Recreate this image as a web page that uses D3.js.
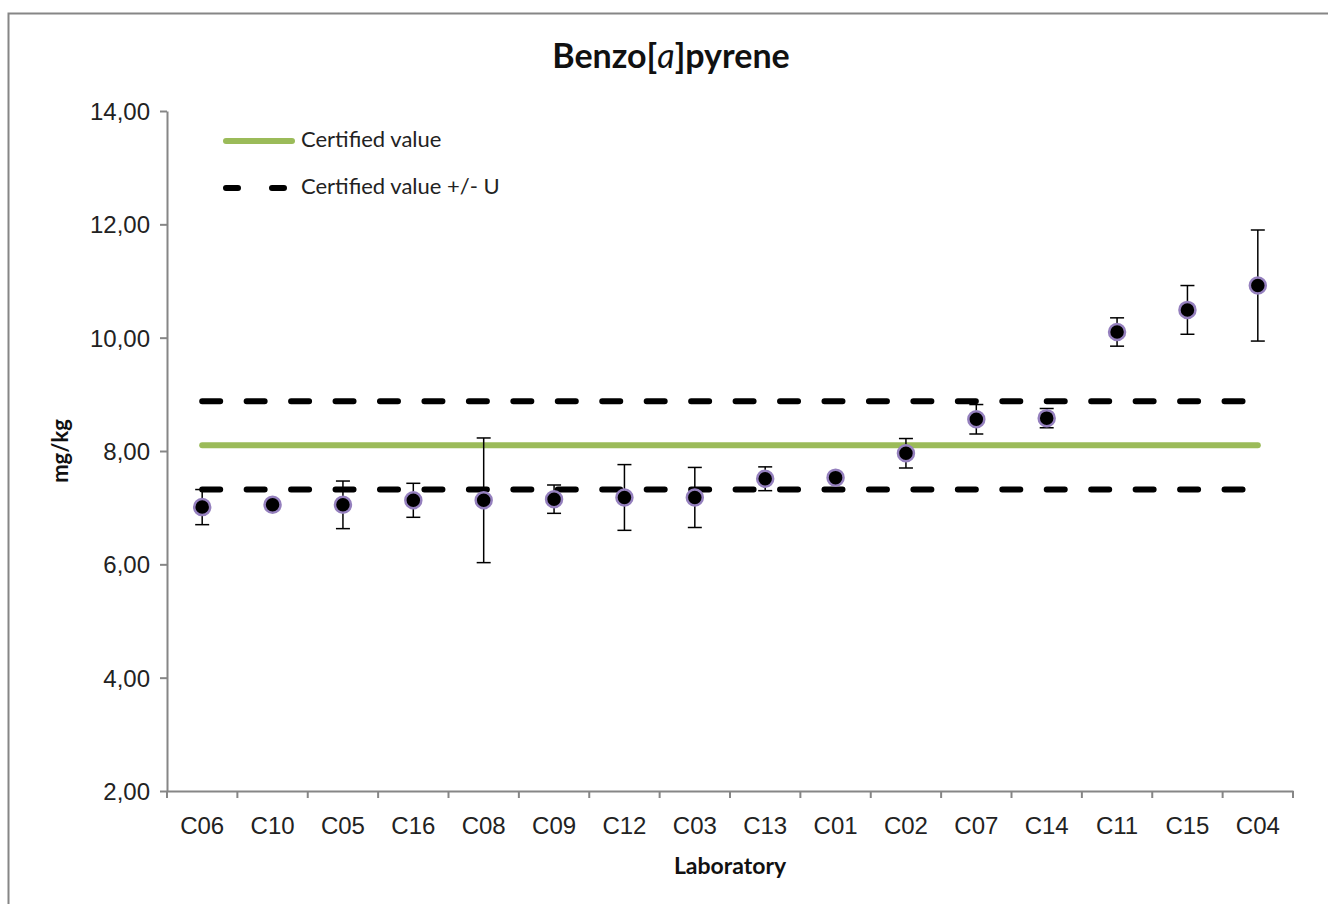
<!DOCTYPE html>
<html>
<head>
<meta charset="utf-8">
<script src="https://cdn.jsdelivr.net/npm/d3@7"></script>
<style>
  html, body { margin: 0; padding: 0; background: #fff; }
  svg { display: block; font-family: Lato, "Open Sans", "DejaVu Sans", sans-serif; }
</style>
</head>
<body>
<svg id="chart" width="1328" height="904"></svg>
<script>
// Laboratory results for Benzo[a]pyrene (mg/kg), sorted by mean
const labs = ["C06","C10","C05","C16","C08","C09","C12","C03","C13","C01","C02","C07","C14","C11","C15","C04"];
const means = [7.01,7.05,7.05,7.13,7.13,7.15,7.18,7.18,7.51,7.53,7.96,8.56,8.58,10.10,10.49,10.92];
const uncert = [0.31,0.00,0.42,0.30,1.10,0.25,0.58,0.53,0.21,0.08,0.26,0.26,0.17,0.25,0.43,0.98];

const certified = 8.10;
const certifiedU = 0.78;

const yTicks = [2, 4, 6, 8, 10, 12, 14];
const legendItems = ["Certified value", "Certified value +/- U"];

const rows = labs.map((lab, i) => ({ lab, mean: means[i], u: uncert[i] }));

const svg = d3.select("#chart");
const W = 1328, H = 904;
const m = { left: 167, right: 1293, top: 111, bottom: 791 };

const fmt = d3.formatLocale({ decimal: ",", thousands: ".", grouping: [3], currency: ["", ""] }).format(".2f");

// Outer chart frame
svg.append("rect")
  .attr("x", 8.5).attr("y", 13.5)
  .attr("width", W + 20).attr("height", H + 20)
  .attr("fill", "#fff").attr("stroke", "#868686").attr("stroke-width", 2);

const x = d3.scaleBand().domain(labs).range([m.left, m.right]).padding(0);
const y = d3.scaleLinear().domain([2, 14]).range([m.bottom, m.top]);

const axisColor = "#868686";

// Y axis
const yAxis = svg.append("g")
  .attr("transform", `translate(${m.left},0)`)
  .call(d3.axisLeft(y).tickValues(yTicks).tickFormat(fmt).tickSizeOuter(0).tickSizeInner(7).tickPadding(10));
yAxis.select(".domain").attr("stroke", axisColor).attr("stroke-width", 2);
yAxis.selectAll(".tick line").attr("stroke", axisColor).attr("stroke-width", 2);
yAxis.selectAll(".tick text").attr("fill", "#222").style("font-size", "24px").attr("dy", "0.35em");

// X axis: labels centred in each band, ticks on band boundaries
const xAxis = svg.append("g")
  .attr("transform", `translate(0,${m.bottom})`)
  .call(d3.axisBottom(x).tickSize(0).tickPadding(26).tickSizeOuter(0));
xAxis.select(".domain").attr("stroke", axisColor).attr("stroke-width", 2);
xAxis.selectAll(".tick text").attr("fill", "#222").style("font-size", "24px");

const bounds = labs.map(l => x(l)).concat([x(labs[labs.length - 1]) + x.bandwidth()]);
xAxis.selectAll("line.bound").data(bounds).join("line")
  .attr("class", "bound")
  .attr("x1", d => d).attr("x2", d => d)
  .attr("y1", 0).attr("y2", 7)
  .attr("stroke", axisColor).attr("stroke-width", 2);

const cx = l => x(l) + x.bandwidth() / 2;
const xStart = cx(labs[0]);
const xEnd = cx(labs[labs.length - 1]);

// Reference lines: certified value and certified value ± U
svg.append("line")
  .attr("x1", xStart).attr("x2", xEnd)
  .attr("y1", y(certified)).attr("y2", y(certified))
  .attr("stroke", "#9BBB59").attr("stroke-width", 6).attr("stroke-linecap", "round");

[certified + certifiedU, certified - certifiedU].forEach(v => {
  svg.append("line")
    .attr("x1", xStart).attr("x2", xEnd - 14)
    .attr("y1", y(v)).attr("y2", y(v))
    .attr("stroke", "#000").attr("stroke-width", 6)
    .attr("stroke-linecap", "round")
    .attr("stroke-dasharray", "18,26.45");
});

// Error bars
const eb = svg.append("g").attr("stroke", "#000").attr("stroke-width", 1.5);
rows.filter(d => d.u > 0).forEach(d => {
  const xc = cx(d.lab);
  const y1 = y(d.mean + d.u), y2 = y(d.mean - d.u);
  eb.append("line").attr("x1", xc).attr("x2", xc).attr("y1", y1).attr("y2", y2);
  eb.append("line").attr("x1", xc - 7).attr("x2", xc + 7).attr("y1", y1).attr("y2", y1);
  eb.append("line").attr("x1", xc - 7).attr("x2", xc + 7).attr("y1", y2).attr("y2", y2);
});

// Markers
svg.append("g").selectAll("circle").data(rows).join("circle")
  .attr("cx", d => cx(d.lab))
  .attr("cy", d => y(d.mean))
  .attr("r", 8)
  .attr("fill", "#000")
  .attr("stroke", "#9580BE")
  .attr("stroke-width", 2.5);

// Title
const title = svg.append("text")
  .attr("x", 671).attr("y", 68)
  .attr("text-anchor", "middle")
  .style("font-size", "34px").style("font-weight", "bold").attr("fill", "#111");
title.append("tspan").text("Benzo[");
title.append("tspan").text("a").style("font-style", "italic").style("font-weight", "normal");
title.append("tspan").text("]pyrene");

// Axis titles
svg.append("text")
  .attr("x", 730).attr("y", 874)
  .attr("text-anchor", "middle")
  .style("font-size", "23px").style("font-weight", "bold").attr("fill", "#111")
  .text("Laboratory");

svg.append("text")
  .attr("transform", "translate(68,451) rotate(-90)")
  .attr("text-anchor", "middle")
  .style("font-size", "22px").style("font-weight", "bold").attr("fill", "#111")
  .text("mg/kg");

// Legend
const lg = svg.append("g");
lg.append("line")
  .attr("x1", 226).attr("x2", 292).attr("y1", 141).attr("y2", 141)
  .attr("stroke", "#9BBB59").attr("stroke-width", 6).attr("stroke-linecap", "round");
lg.append("line")
  .attr("x1", 226).attr("x2", 294).attr("y1", 188).attr("y2", 188)
  .attr("stroke", "#000").attr("stroke-width", 6).attr("stroke-linecap", "round")
  .attr("stroke-dasharray", "12,34");
lg.selectAll("text").data(legendItems).join("text")
  .attr("x", 301)
  .attr("y", (d, i) => 139 + i * 47)
  .attr("dy", "0.35em")
  .style("font-size", "22px").attr("fill", "#222")
  .text(d => d);
</script>
</body>
</html>
